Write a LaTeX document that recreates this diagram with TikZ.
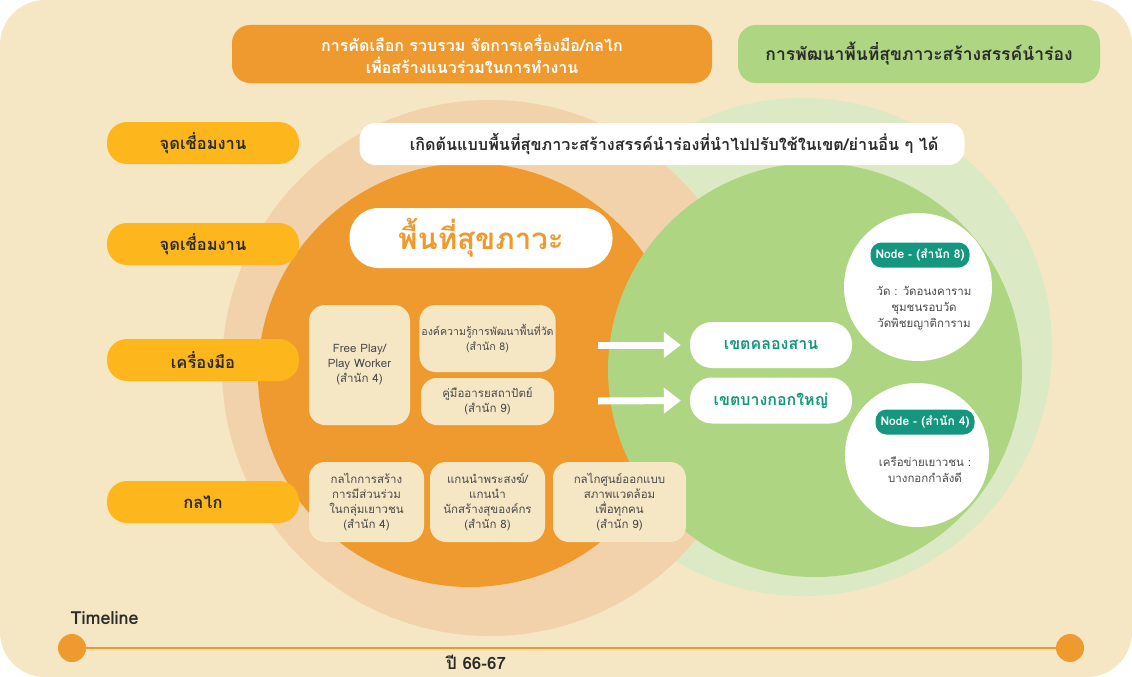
\documentclass[tikz,border=0pt]{standalone}
\usepackage{fontspec}
\setmainfont[Script=Thai]{Loma}
\usetikzlibrary{arrows.meta,positioning}

\definecolor{cream}{HTML}{F5E6C4}
\definecolor{peach}{HTML}{F2D2AB}
\definecolor{orng}{HTML}{EF9A2F}
\definecolor{lgreen}{HTML}{DCE9C5}
\definecolor{grn}{HTML}{AED581}
\definecolor{yell}{HTML}{FDB71C}
\definecolor{teal}{HTML}{14977E}
\definecolor{textdark}{HTML}{2B2B2B}
\definecolor{textgray}{HTML}{4A4A4A}

\newcommand{\fsz}[2]{\fontsize{#1}{#2}\selectfont}

\tikzset{
  head/.style={rounded corners=18pt, minimum height=58pt, align=center, font=\fsz{16}{22}\bfseries},
  tag/.style={fill=yell, rounded corners=20pt, minimum width=192pt, minimum height=42pt, text=textdark, font=\fsz{16.5}{18}\bfseries},
  whitebox/.style={fill=white, rounded corners=16pt, text=textdark, font=\fsz{16.2}{18}\bfseries},
  card/.style={fill=cream, rounded corners=16pt, inner sep=2pt, align=center, text=textgray, font=\fsz{11.5}{15}},
  pill/.style={fill=white, rounded corners=22pt, minimum width=162pt, minimum height=46pt, text=teal, font=\fsz{16}{18}\bfseries},
  spot/.style={circle, fill=white, inner sep=0pt},
  badge/.style={fill=teal, text=white, rounded corners=11pt, minimum height=25pt, inner xsep=5pt, font=\fsz{12}{14}\bfseries},
  note/.style={align=center, text=textgray, font=\fsz{11.5}{16}},
  flow/.style={draw=white, line width=7pt, -{Triangle[length=17pt,width=25pt]}},
  dot/.style={circle, fill=orng, minimum size=28pt, inner sep=0pt}
}

\begin{document}
\begin{tikzpicture}[x=1pt,y=-1pt]
\useasboundingbox (0,0) rectangle (1132,677);

% background and circles
\fill[cream, rounded corners=45pt] (0,0) rectangle (1132,677);
\fill[lgreen] (803,347) circle (249pt);
\fill[peach] (490,368) circle (268pt);
\fill[orng] (470,375) circle (212pt);
\fill[grn] (815,370) circle (207pt);

% headers
\node[head, fill=orng, text=white, minimum width=480pt] (select) at (472,54) {การคัดเลือก รวบรวม จัดการเครื่องมือ/กลไก\\เพื่อสร้างแนวร่วมในการทำงาน};
\node[head, fill=grn, text=textdark, minimum width=362pt, font=\fsz{17.5}{22}\bfseries] (pilot) at (919,54) {การพัฒนาพื้นที่สุขภาวะสร้างสรรค์นำร่อง};

% row labels
\node[tag] (link1) at (203,143) {จุดเชื่อมงาน};
\node[tag] (link2) at (203,244) {จุดเชื่อมงาน};
\node[tag] (tool) at (203,360) {เครื่องมือ};
\node[tag] (mech) at (203,502) {กลไก};

\node[whitebox, minimum width=605pt, minimum height=42pt] (proto) at (662,144) {\hspace*{24pt}เกิดต้นแบบพื้นที่สุขภาวะสร้างสรรค์นำร่องที่นำไปปรับใช้ในเขต/ย่านอื่น ๆ ได้};
\node[whitebox, rounded corners=29pt, minimum width=263pt, minimum height=60pt, text=orng, font=\fsz{29.5}{34}\bfseries] (space) at (481,238) {พื้นที่สุขภาวะ};

% tools
\node[card, minimum width=101pt, minimum height=120pt] (free) at (359.5,365) {Free Play/\\Play Worker\\(สำนัก 4)};
\node[card, minimum width=133pt, minimum height=67pt, font=\fsz{10.6}{15}] (know) at (487.5,338.5) {องค์ความรู้การพัฒนาพื้นที่วัด\\(สำนัก 8)};
\node[card, minimum width=133pt, minimum height=47pt] (guide) at (487.5,401.5) {คู่มืออารยสถาปัตย์\\(สำนัก 9)};

% mechanisms
\node[card, minimum width=115pt, minimum height=80pt] (youth) at (366.5,502) {กลไกการสร้าง\\การมีส่วนร่วม\\ในกลุ่มเยาวชน\\(สำนัก 4)};
\node[card, minimum width=115pt, minimum height=80pt] (monk) at (487.5,502) {แกนนำพระสงฆ์/\\แกนนำ\\นักสร้างสุของค์กร\\(สำนัก 8)};
\node[card, minimum width=133pt, minimum height=80pt] (design) at (619.5,502) {กลไกศูนย์ออกแบบ\\สภาพแวดล้อม\\เพื่อทุกคน\\(สำนัก 9)};

% districts
\node[pill] (klong) at (771,345) {เขตคลองสาน};
\node[pill] (bkyai) at (771,400.5) {เขตบางกอกใหญ่};
\coordinate (a1) at (598,345);
\coordinate (a2) at (598,401);
\draw[flow, shorten >=9pt] (a1) -- (klong.west);
\draw[flow, shorten >=9pt] (a2) -- (bkyai.west);

% nodes
\node[spot, minimum size=148pt] (c8) at (918,287) {};
\node[spot, minimum size=144pt] (c4) at (917,455) {};
\node[badge] (n8) at (920,255) {Node - (สำนัก 8)};
\node[badge] (n4) at (925,422) {Node - (สำนัก 4)};
\node[note] (wat) at (924,308) {วัด : วัดอนงคาราม\\ชุมชนรอบวัด\\วัดพิชยญาติการาม};
\node[note] (net) at (925,470) {เครือข่ายเยาวชน :\\บางกอกกำลังดี};

% timeline
\node[anchor=west, text=textdark, font=\fsz{18}{20}\bfseries] (tl) at (67,618) {Timeline};
\node[dot] (t0) at (72,648) {};
\node[dot] (t1) at (1070,648) {};
\draw[orng, line width=2.5pt] (t0) -- (t1);
\node[inner sep=0pt, text=textdark, font=\fsz{17}{19}\bfseries] (year) at (476,662) {ปี 66-67};
\end{tikzpicture}
\end{document}
